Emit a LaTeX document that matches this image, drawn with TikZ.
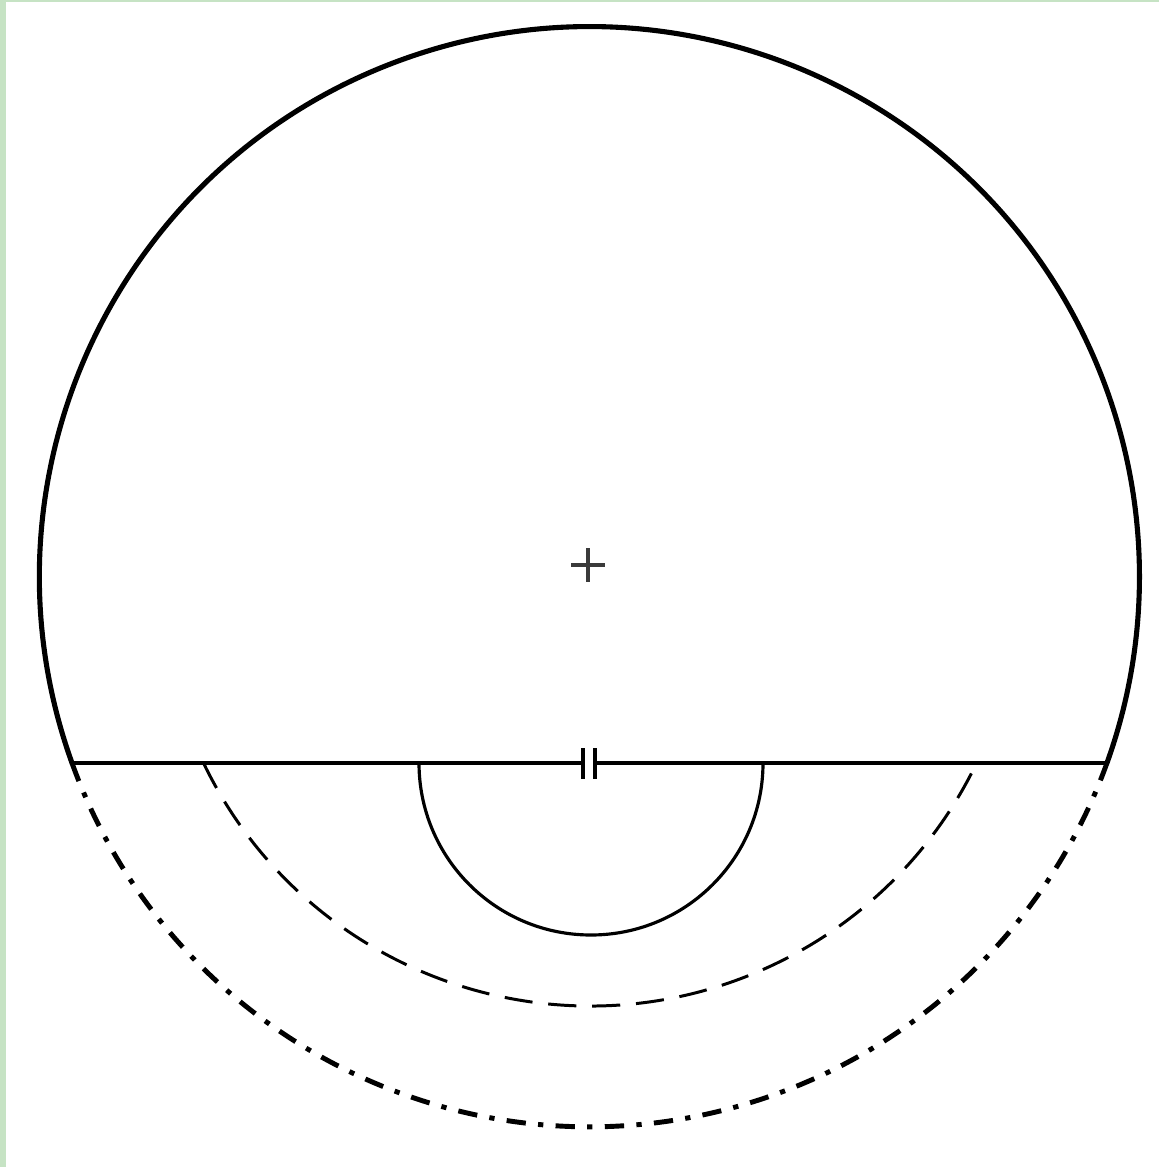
\documentclass[tikz,border=0pt]{standalone}
\usepackage{tikz}
\usetikzlibrary{calc}
\definecolor{paperedge}{HTML}{C6E3C4}
\definecolor{markgray}{HTML}{3A3A3A}
\tikzset{
  rim/.style={line width=1.45pt, line cap=round},
  chordline/.style={line width=1.4pt},
  innerarc/.style={line width=0.9pt},
  dasharc/.style={line width=0.85pt, dash pattern=on 8pt off 4.5pt},
  dotarc/.style={line width=1.4pt, dash pattern=on 5.5pt off 3.5pt on 1.5pt off 3.5pt},
  plate/.style={line width=1.2pt}
}
\begin{document}
\begin{tikzpicture}[x=0.01cm,y=-0.01cm]
  % paper and margins
  \fill[paperedge] (0,0) rectangle (1159,1167);
  \fill[white] (6,2) rectangle (1159,1167);
  \useasboundingbox (0,0) rectangle (1159,1167);

  \coordinate (O) at (590,577);
  \coordinate (A) at (72,763);
  \coordinate (B) at (1108,763);
  \coordinate (M) at (590,763);

  % upper part of the circle, solid
  \draw[rim] (A) arc[start angle=160.2, end angle=379.8, radius=550];
  % lower part, dash-dotted
  \draw[dotarc] (A) arc[start angle=160.2, end angle=19.8, radius=550];

  % chord with the gap in the middle
  \draw[chordline] (A) -- ($(M)+(-7,0)$);
  \draw[chordline] ($(M)+(5,0)$) -- (B);
  \draw[plate] ($(M)+(-7,-15)$) -- ($(M)+(-7,16)$);
  \draw[plate] ($(M)+(5,-15)$) -- ($(M)+(5,16)$);

  % half circle below the chord
  \draw[innerarc] ($(M)+(-171,0)$) arc[start angle=180, end angle=0, radius=172];

  % dashed concentric arc
  \draw[dasharc] ($(O)+(-386.5,186)$) arc[start angle=154.3, end angle=25.7, radius=429];

  % centre mark
  \draw[markgray, line width=1pt] (571,565) -- (605,565);
  \draw[markgray, line width=1pt] (588,548) -- (588,582);
\end{tikzpicture}
\end{document}
